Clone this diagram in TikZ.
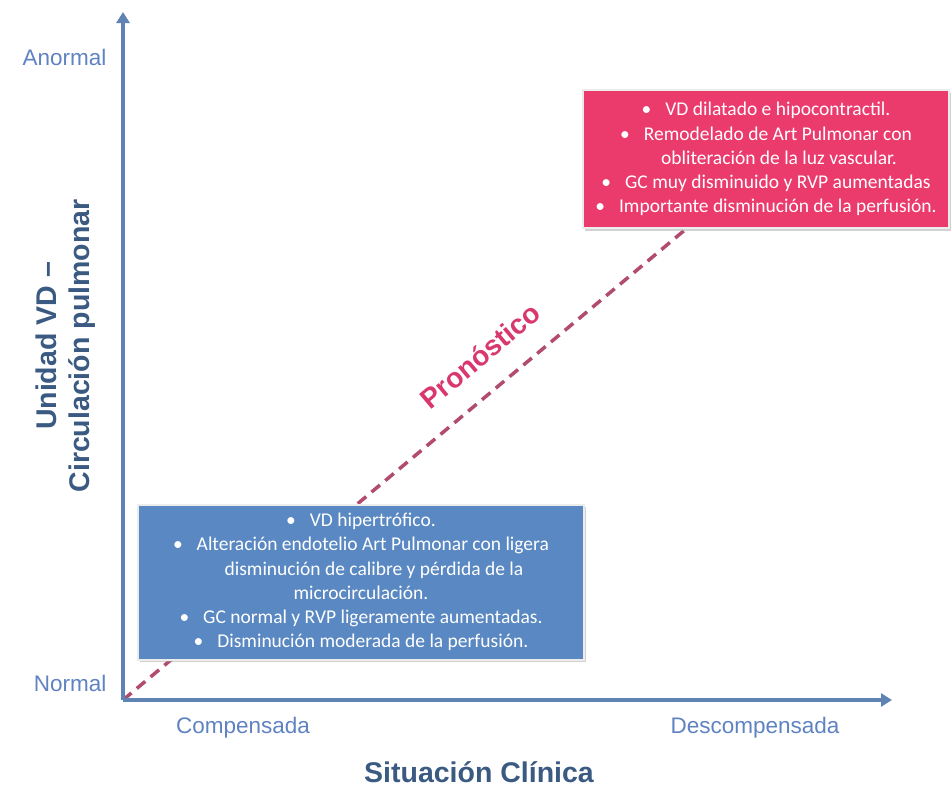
\documentclass[tikz,border=0pt]{standalone}
\usepackage{fontspec}
\setmainfont{Liberation Sans}
\newfontfamily\boxfont{Carlito}
\usetikzlibrary{arrows.meta, shadows}

\definecolor{axisblue}{HTML}{5F83B3}
\definecolor{ticklabel}{HTML}{5F82C2}
\definecolor{titleblue}{HTML}{3B5A82}
\definecolor{earlyfill}{HTML}{5A88C2}
\definecolor{latefill}{HTML}{EB3A6C}
\definecolor{trendline}{HTML}{B24C6E}
\definecolor{trendtext}{HTML}{D8386F}

\tikzset{
  axis/.style = {draw=axisblue, line width=3.5pt, -{Triangle[length=11pt, width=13pt]}},
  ticktext/.style = {text=ticklabel, font=\fontsize{22.5}{26}\selectfont},
  titletext/.style = {text=titleblue, font=\bfseries\fontsize{28.5}{33}\selectfont, align=center},
  statebox/.style = {draw=gray!15, line width=2pt, text=white, align=center,
    inner sep=0pt, font=\boxfont\fontsize{19.5}{24.2}\selectfont,
    drop shadow={shadow xshift=1.5pt, shadow yshift=-2.5pt, fill=gray!70}},
}

\begin{document}
\begin{tikzpicture}[x=1pt, y=-1pt]
  \useasboundingbox (0,0) rectangle (951,787);

  % trend line
  \coordinate (origin) at (123,700);
  \coordinate (trendend) at (692,224);
  \draw [trendline, line width=3.5pt, dash pattern=on 11pt off 7pt] (origin) -- (trendend);
  \node [text=trendtext, font=\bfseries\fontsize{28}{30}\selectfont, rotate=40] (trend) at (480,356) {Pronóstico};

  % axes
  \coordinate (ytip) at (123,12);
  \coordinate (xtip) at (892,700);
  \draw [axis] (origin) -- (ytip);
  \draw [axis] (origin) -- (xtip);

  \node [ticktext, anchor=east] (high) at (110,57) {Anormal};
  \node [ticktext, anchor=east] (low) at (110,683) {Normal};
  \node [ticktext] (comp) at (243,728) {Compensada};
  \node [ticktext] (decomp) at (755,728) {Descompensada};

  \node [titletext] (xtitle) at (479,772) {Situación Clínica};
  \node [titletext, rotate=90] (ytitle) at (66,346) {Unidad VD –\\Circulación pulmonar};

  % states
  \node [statebox, fill=earlyfill, minimum width=446pt, minimum height=155pt] (early) at (361,582)
    {\textbullet\hspace{14pt}VD hipertrófico.\\
     \textbullet\hspace{14pt}Alteración endotelio Art Pulmonar con ligera\\
     \hspace{26pt}disminución de calibre y pérdida de la\\
     microcirculación.\\
     \textbullet\hspace{14pt}GC normal y RVP ligeramente aumentadas.\\
     \textbullet\hspace{14pt}Disminución moderada de la perfusión.};

  \node [statebox, fill=latefill, minimum width=366pt, minimum height=138pt] (late) at (766,159)
    {\textbullet\hspace{14pt}VD dilatado e hipocontractil.\\
     \textbullet\hspace{14pt}Remodelado de Art Pulmonar con\\
     \hspace{26pt}obliteración de la luz vascular.\\
     \textbullet\hspace{14pt}GC muy disminuido y RVP aumentadas\\
     \textbullet\hspace{14pt}Importante disminución de la perfusión.};
\end{tikzpicture}
\end{document}
